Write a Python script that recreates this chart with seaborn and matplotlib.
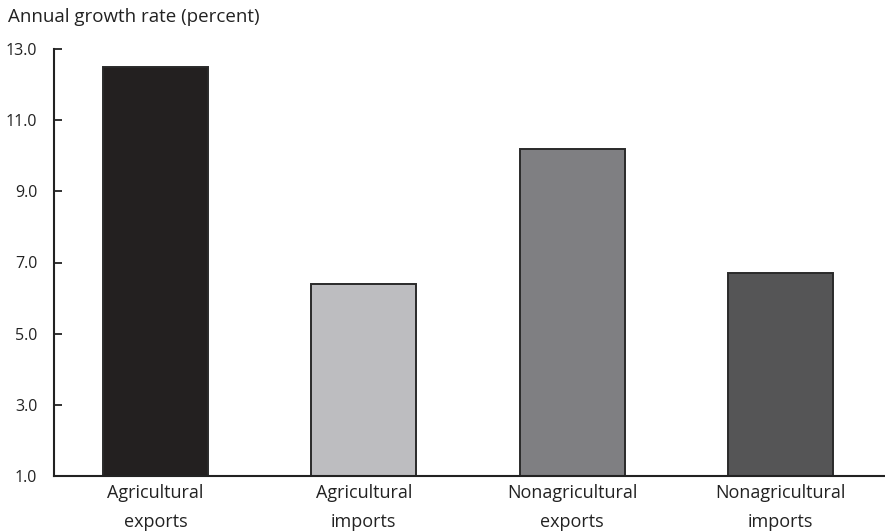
import matplotlib
matplotlib.use("Agg")
import matplotlib.pyplot as plt
import seaborn as sns
import pandas as pd

categories = ["Agricultural\nexports", "Agricultural\nimports",
              "Nonagricultural\nexports", "Nonagricultural\nimports"]
growth_rates = [12.5, 6.4, 10.2, 6.7]
bar_colors = ["#231f20", "#bcbcc0", "#7f7e83", "#555556"]
y_ticks = [1.0, 3.0, 5.0, 7.0, 9.0, 11.0, 13.0]

sns.set_theme(style="white")
plt.rcParams["font.family"] = ["Open Sans", "DejaVu Sans"]

df = pd.DataFrame({"category": categories, "rate": growth_rates})

fig = plt.figure(figsize=(8.85, 5.32), dpi=100)
ax = fig.add_axes([54 / 885, 1 - 476 / 532, 831 / 885, 427 / 532])

sns.barplot(data=df, x="category", y="rate", hue="category",
            palette=bar_colors, width=0.505, legend=False,
            edgecolor="#2a2a2a", linewidth=1.4, ax=ax)

ax.set_ylim(1.0, 13.0)
ax.set_xlim(-0.486, 3.5)
ax.set_yticks(y_ticks)
ax.set_yticklabels([f"{t:.1f}" for t in y_ticks], fontsize=11.5, color="#222222")
ax.tick_params(axis="y", left=True, direction="in", length=6, width=1.3,
               color="#222222", pad=12)
ax.set_xticks(range(len(categories)))
ax.set_xticklabels(categories, fontsize=13, color="#222222", linespacing=1.75)
ax.tick_params(axis="x", bottom=False, length=0, pad=6)
ax.set_xlabel("")
ax.set_ylabel("")

for side in ["top", "right"]:
    ax.spines[side].set_visible(False)
for side in ["left", "bottom"]:
    ax.spines[side].set_color("#222222")
    ax.spines[side].set_linewidth(1.5)

fig.text(8 / 885, 1 - 17 / 532, "Annual growth rate (percent)", fontsize=13.5,
         color="#222222", ha="left", va="center")

fig.savefig("out.png", dpi=100)
